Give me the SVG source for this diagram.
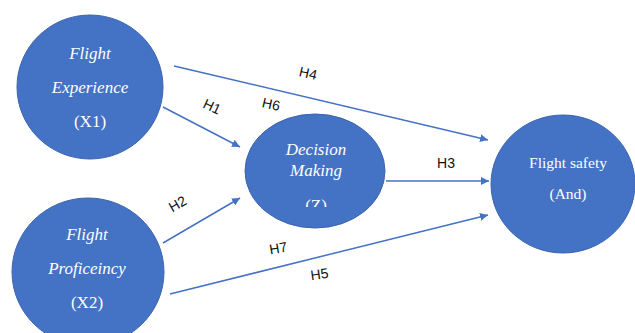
<svg xmlns="http://www.w3.org/2000/svg" width="635" height="333" viewBox="0 0 635 333">
<style>
.node{fill:#4472C4;stroke:#3A64AE;stroke-width:1}
.nt{fill:#fff;font-family:"Liberation Serif","Times New Roman",serif;font-size:17px;text-anchor:middle}
.it{font-style:italic}
.edge{fill:none;stroke:#4472C4;stroke-width:1.5}
.lbl{fill:#111;font-family:"Liberation Sans",Arial,sans-serif;font-size:14px;text-anchor:middle}
</style>
<defs>
<marker id="arr" viewBox="0 0 10 10" refX="10" refY="5" markerWidth="8" markerHeight="8" markerUnits="userSpaceOnUse" orient="auto">
<path d="M0,0 L10,5 L0,10 z" fill="#4472C4"/>
</marker>
<clipPath id="zclip"><rect x="240" y="110" width="150" height="97"/></clipPath>
</defs>
<rect width="635" height="333" fill="#fff"/>
<g id="connectors">
<line class="edge" x1="174" y1="66" x2="488" y2="140" marker-end="url(#arr)"/>
<line class="edge" x1="163" y1="107" x2="240" y2="147" marker-end="url(#arr)"/>
<line class="edge" x1="163" y1="243" x2="240" y2="198" marker-end="url(#arr)"/>
<line class="edge" x1="386" y1="181" x2="489" y2="181" marker-end="url(#arr)"/>
<path class="edge" d="M170,294 Q300,262 488,215" marker-end="url(#arr)"/>
<text class="lbl" transform="translate(307,78) rotate(13)">H4</text>
<text class="lbl" transform="translate(210,111) rotate(25)">H1</text>
<text class="lbl" transform="translate(270,109) rotate(13)">H6</text>
<text class="lbl" transform="translate(180,208) rotate(-30)">H2</text>
<text class="lbl" x="446" y="168">H3</text>
<text class="lbl" transform="translate(279,253) rotate(-10)">H7</text>
<text class="lbl" transform="translate(320,279) rotate(-8)">H5</text>
</g>
<g id="X1">
<ellipse class="node" cx="90" cy="87" rx="73" ry="72"/>
<text class="nt it" x="90" y="59">Flight</text>
<text class="nt it" x="90" y="93">Experience</text>
<text class="nt" x="90" y="127">(X1)</text>
</g>
<g id="X2">
<ellipse class="node" cx="88" cy="272" rx="76" ry="74"/>
<text class="nt it" x="87" y="240">Flight</text>
<text class="nt it" x="87" y="274">Proficeincy</text>
<text class="nt" x="87" y="308">(X2)</text>
</g>
<g id="Z">
<ellipse class="node" cx="315" cy="171" rx="70" ry="57"/>
<text class="nt it" x="316" y="155">Decision</text>
<text class="nt it" x="316" y="176">Making</text>
<text class="nt" x="316" y="211" clip-path="url(#zclip)">(Z)</text>
</g>
<g id="Y">
<ellipse class="node" cx="563" cy="184" rx="72" ry="69"/>
<text class="nt" x="568" y="168" style="font-size:15.5px">Flight safety</text>
<text class="nt" x="568" y="199" style="font-size:15.5px">(And)</text>
</g>
</svg>
